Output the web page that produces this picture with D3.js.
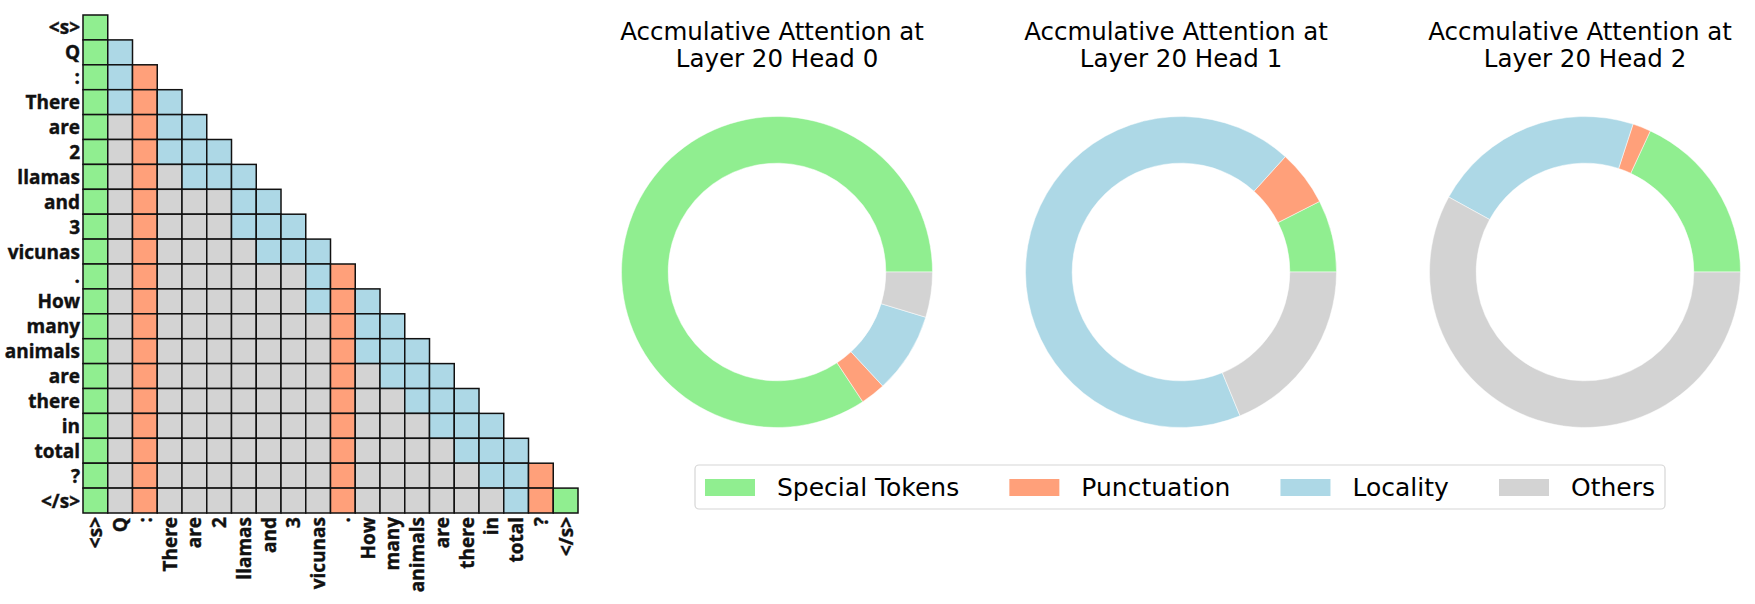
<!DOCTYPE html>
<html>
<head>
<meta charset="utf-8">
<script src="https://cdn.jsdelivr.net/npm/d3@7"></script>
<style>
	body { margin: 0; background: #fff; }
	svg { display: block; }
</style>
</head>
<body>
<svg id="vis" width="1755" height="604"></svg>
<script>
// tokens of the prompt (rows and columns of the attention mask)
const tokens = ["<s>", "Q", ":", "There", "are", "2", "llamas", "and", "3", "vicunas", ".",
	"How", "many", "animals", "are", "there", "in", "total", "?", "</s>"];

// one string per row, one letter per visible key: G special, S punctuation, B locality, O others
const maskRows = [
	"G",
	"GB",
	"GBS",
	"GBSB",
	"GOSBB",
	"GOSBBB",
	"GOSOBBB",
	"GOSOOOBB",
	"GOSOOOBBB",
	"GOSOOOOBBB",
	"GOSOOOOOOBS",
	"GOSOOOOOOBSB",
	"GOSOOOOOOOSBB",
	"GOSOOOOOOOSBBB",
	"GOSOOOOOOOSOBBB",
	"GOSOOOOOOOSOOBBB",
	"GOSOOOOOOOSOOOBBB",
	"GOSOOOOOOOSOOOOBBB",
	"GOSOOOOOOOSOOOOOBBS",
	"GOSOOOOOOOSOOOOOOBSG"
];

const categories = ["Special Tokens", "Punctuation", "Locality", "Others"];
const categoryCodes = ["G", "S", "B", "O"];
const categoryColors = ["#90EE90", "#FFA07A", "#ADD8E6", "#D3D3D3"];

const heads = ["Layer 20 Head 0", "Layer 20 Head 1", "Layer 20 Head 2"];
// share of accumulated attention (%) per category, in category order
const head0 = [84.3, 2.6, 8.4, 4.7];
const head1 = [7.5, 5.8, 67.9, 18.8];
const head2 = [18.1, 1.9, 22.0, 58.0];

const svg = d3.select("svg#vis");

const g = {
	grid: svg.append("g").attr("id", "grid"),
	donuts: svg.append("g").attr("id", "donuts"),
	legend: svg.append("g").attr("id", "legend")
};

const codeColor = d3.scaleOrdinal().domain(categoryCodes).range(categoryColors);
const catColor = d3.scaleOrdinal().domain(categories).range(categoryColors);

// ---------- attention mask grid ----------
const x = d3.scaleBand().domain(d3.range(tokens.length)).range([83, 578]);
const y = d3.scaleBand().domain(d3.range(tokens.length)).range([15, 513]);

const cells = [];
maskRows.forEach(function(row, i) {
	row.split("").forEach(function(code, j) {
		cells.push({row: i, col: j, code: code});
	});
});

g.grid.selectAll("rect.cell")
	.data(cells)
	.enter()
	.append("rect")
	.attr("class", "cell")
	.attr("x", d => x(d.col))
	.attr("y", d => y(d.row))
	.attr("width", x.bandwidth())
	.attr("height", y.bandwidth())
	.attr("fill", d => codeColor(d.code))
	.attr("stroke", "#111")
	.attr("stroke-width", 1.5);

const labelFont = "'Open Sans', 'Liberation Sans', sans-serif";

// heavy bold token labels
function styleLabel(sel) {
	sel.style("font-family", labelFont)
		.style("font-weight", "bold")
		.style("font-size", "19px")
		.attr("fill", "#111")
		.attr("stroke", "#111")
		.attr("stroke-width", 0.4);
}

g.grid.selectAll("text.rowlabel")
	.data(tokens)
	.enter()
	.append("text")
	.attr("class", "rowlabel")
	.attr("x", x(0) - 3)
	.attr("y", (d, i) => y(i) + y.bandwidth() / 2)
	.attr("text-anchor", "end")
	.attr("dominant-baseline", "central")
	.call(styleLabel)
	.text(d => d);

g.grid.selectAll("text.collabel")
	.data(tokens)
	.enter()
	.append("text")
	.attr("class", "collabel")
	.attr("transform", (d, i) => translate(x(i) + x.bandwidth() / 2, y.range()[1] + 4) + " rotate(-90)")
	.attr("text-anchor", "end")
	.attr("dominant-baseline", "central")
	.call(styleLabel)
	.text(d => d);

// ---------- donuts ----------
const headValues = [head0, head1, head2];
const cx = d3.scalePoint().domain(d3.range(heads.length)).range([777, 1585]);
const cy = 272;
const outerR = 155.5;

// matplotlib style: start at 3 o'clock and go counterclockwise
const pie = d3.pie()
	.sort(null)
	.startAngle(Math.PI / 2)
	.endAngle(Math.PI / 2 - 2 * Math.PI);

const arc = d3.arc()
	.innerRadius(outerR * 0.7)
	.outerRadius(outerR);

heads.forEach(function(head, h) {
	const dg = g.donuts.append("g")
		.attr("transform", translate(cx(h), cy));

	dg.selectAll("path")
		.data(pie(headValues[h]))
		.enter()
		.append("path")
		.attr("d", arc)
		.attr("fill", (d, i) => categoryColors[i])
		.attr("stroke", "#fff")
		.attr("stroke-width", 0.5);

	const title = g.donuts.append("text")
		.attr("text-anchor", "middle")
		.style("font-family", "'DejaVu Sans', sans-serif")
		.style("font-size", "24.5px")
		.attr("fill", "#000");

	title.append("tspan")
		.attr("x", cx(h) - 5)
		.attr("y", 40)
		.text("Accmulative Attention at");

	title.append("tspan")
		.attr("x", cx(h))
		.attr("y", 67)
		.text(head);
});

// ---------- legend ----------
const legendBox = {x: 695, y: 465, w: 970, h: 44};
const patchW = 50, patchH = 17, textPad = 22, boxPad = 10;

g.legend.append("rect")
	.attr("x", legendBox.x)
	.attr("y", legendBox.y)
	.attr("width", legendBox.w)
	.attr("height", legendBox.h)
	.attr("rx", 4)
	.attr("fill", "#fff")
	.attr("stroke", "#d6d6d6")
	.attr("stroke-width", 1.2);

const items = g.legend.selectAll("g.item")
	.data(categories)
	.enter()
	.append("g")
	.attr("class", "item");

items.append("rect")
	.attr("width", patchW)
	.attr("height", patchH)
	.attr("y", legendBox.y + legendBox.h / 2 - patchH / 2 + 0.5)
	.attr("fill", d => catColor(d));

items.append("text")
	.attr("x", patchW + textPad)
	.attr("y", legendBox.y + legendBox.h / 2 + 9)
	.style("font-family", "'DejaVu Sans', sans-serif")
	.style("font-size", "25px")
	.attr("fill", "#000")
	.text(d => d);

// spread the columns so they fill the box
const widths = [];
items.each(function() {
	widths.push(patchW + textPad + d3.select(this).select("text").node().getComputedTextLength());
});
const gap = (legendBox.w - 2 * boxPad - d3.sum(widths)) / (widths.length - 1);
let cursor = legendBox.x + boxPad;
items.each(function(d, i) {
	d3.select(this).attr("transform", translate(cursor, 0));
	cursor += widths[i] + gap;
});

function translate(tx, ty) {
	return "translate(" + tx + "," + ty + ")";
}
</script>
</body>
</html>
